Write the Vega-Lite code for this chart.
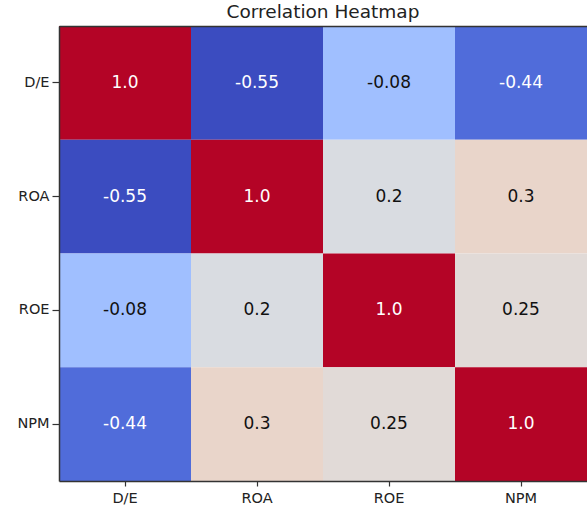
{
  "$schema": "https://vega.github.io/schema/vega-lite/v6.json",
  "width": 528,
  "height": 455,
  "autosize": {"type": "none"},
  "padding": {"left": 59, "top": 26, "right": 0, "bottom": 25},
  "background": "white",
  "title": {"text": "Correlation Heatmap", "font": "DejaVu Sans", "fontSize": 18.5, "fontWeight": "normal", "color": "#222222", "offset": 5, "anchor": "middle"},
  "config": {"view": {"stroke": null}, "font": "DejaVu Sans"},
  "resolve": {"axis": {"x": "independent"}},
  "data": {"values": [
    {"row": "D/E", "col": "D/E", "v": 1.0, "label": "1.0"},
    {"row": "D/E", "col": "ROA", "v": -0.55, "label": "-0.55"},
    {"row": "D/E", "col": "ROE", "v": -0.08, "label": "-0.08"},
    {"row": "D/E", "col": "NPM", "v": -0.44, "label": "-0.44"},
    {"row": "ROA", "col": "D/E", "v": -0.55, "label": "-0.55"},
    {"row": "ROA", "col": "ROA", "v": 1.0, "label": "1.0"},
    {"row": "ROA", "col": "ROE", "v": 0.2, "label": "0.2"},
    {"row": "ROA", "col": "NPM", "v": 0.3, "label": "0.3"},
    {"row": "ROE", "col": "D/E", "v": -0.08, "label": "-0.08"},
    {"row": "ROE", "col": "ROA", "v": 0.2, "label": "0.2"},
    {"row": "ROE", "col": "ROE", "v": 1.0, "label": "1.0"},
    {"row": "ROE", "col": "NPM", "v": 0.25, "label": "0.25"},
    {"row": "NPM", "col": "D/E", "v": -0.44, "label": "-0.44"},
    {"row": "NPM", "col": "ROA", "v": 0.3, "label": "0.3"},
    {"row": "NPM", "col": "ROE", "v": 0.25, "label": "0.25"},
    {"row": "NPM", "col": "NPM", "v": 1.0, "label": "1.0"}
  ]},
  "layer": [
    {
      "mark": {"type": "rect"},
      "encoding": {
        "x": {"field": "col", "type": "nominal", "sort": ["D/E", "ROA", "ROE", "NPM"], "title": null,
          "scale": {"paddingInner": 0, "paddingOuter": 0},
          "axis": {"labelAngle": 0, "domain": true, "domainColor": "#333333", "domainWidth": 1.5, "ticks": true, "tickSize": 5, "tickColor": "#333333", "tickWidth": 1.2, "labelFontSize": 14.5, "labelColor": "#222222", "labelPadding": 5, "labelFont": "DejaVu Sans", "zindex": 1}},
        "y": {"field": "row", "type": "nominal", "sort": ["D/E", "ROA", "ROE", "NPM"], "title": null,
          "scale": {"paddingInner": 0, "paddingOuter": 0},
          "axis": {"domain": true, "domainColor": "#333333", "domainWidth": 1.5, "ticks": true, "tickSize": 7, "tickColor": "#333333", "tickWidth": 1.2, "labelFontSize": 14.5, "labelColor": "#222222", "labelPadding": 3, "labelFont": "DejaVu Sans", "zindex": 1}},
        "color": {"field": "v", "type": "quantitative", "legend": null,
          "scale": {"interpolate": "rgb",
            "domain": [-0.55, -0.453125, -0.35625, -0.259375, -0.1625, -0.065625, 0.03125, 0.128125, 0.225, 0.321875, 0.41875, 0.515625, 0.6125, 0.709375, 0.80625, 0.903125, 1.0],
            "range": ["#3b4cc0", "#4d68d7", "#6282ea", "#779af7", "#8db0fe", "#a3c2ff", "#b8d0f9", "#ccd9ee", "#dddddd", "#ecd3c5", "#f5c4ac", "#f7b194", "#f49a7b", "#ec7f63", "#de604d", "#cb3e38", "#b40426"]}}
      }
    },
    {
      "mark": {"type": "text", "fontSize": 17, "font": "DejaVu Sans"},
      "encoding": {
        "x": {"field": "col", "type": "nominal", "sort": ["D/E", "ROA", "ROE", "NPM"], "title": null,
          "scale": {"paddingInner": 0, "paddingOuter": 0},
          "axis": {"orient": "top", "domain": true, "domainColor": "#333333", "domainWidth": 1.5, "ticks": false, "labels": false, "zindex": 1}},
        "y": {"field": "row", "type": "nominal", "sort": ["D/E", "ROA", "ROE", "NPM"], "title": null,
          "scale": {"paddingInner": 0, "paddingOuter": 0}},
        "text": {"field": "label", "type": "nominal"},
        "color": {"condition": {"test": "abs(datum.v) > 0.4", "value": "white"}, "value": "#111111"}
      }
    }
  ]
}
